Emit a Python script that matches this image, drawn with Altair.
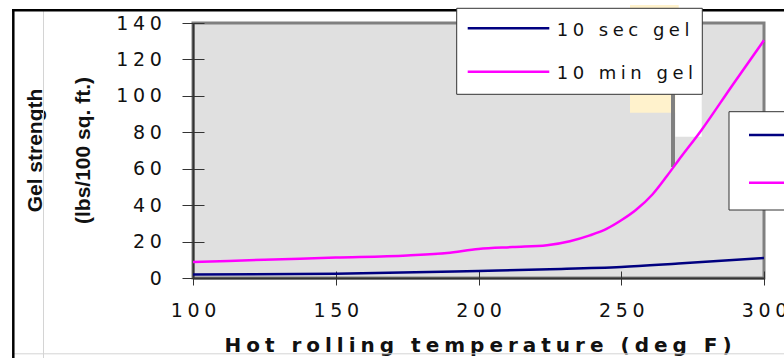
import altair as alt
import pandas as pd

# ---------------- data ----------------
series_names = ["10 sec gel", "10 min gel"]
series_colors = ["#000080", "#ff00ff"]

sec_temp = [100, 150, 200, 225, 250, 270, 300]
sec_gel = [1.9, 2.4, 3.9, 4.8, 6.0, 7.9, 11.0]

min_temp = [100, 125, 150, 175, 189, 200, 212, 224, 232, 239, 245, 250,
            255, 261, 266, 270, 278, 289, 300]
min_gel = [8.8, 10.0, 11.2, 12.4, 13.7, 15.9, 17.0, 18.0, 20.2, 23.4, 27.1,
           31.7, 37.2, 46.0, 56.0, 64.5, 81.0, 106.0, 130.5]

x_ticks = [100, 150, 200, 250, 300]
y_ticks = [0, 20, 40, 60, 80, 100, 120, 140]
x_title = "Hot rolling temperature (deg F)"
y_title = ["Gel strength", "(lbs/100 sq. ft.)"]

# ---------------- layout helpers ----------------
LEFT, TOP, W, H = 193, 23, 571, 255
RIGHT, BOTTOM = 784 - LEFT - W, 358 - TOP - H


def rx(a):
    return a - LEFT


def ry(b):
    return b - TOP


FOUR = "\u2005"    # four-per-em space (tracking)
TXT = "#111111"
AX = "#333333"

xs = alt.Scale(domain=[100, 300], nice=False, zero=False)
ys = alt.Scale(domain=[0, 140], nice=False, zero=True)
cs = alt.Scale(domain=series_names, range=series_colors)

df = pd.DataFrame({
    "temp": sec_temp + min_temp,
    "gel": sec_gel + min_gel,
    "series": [series_names[0]] * len(sec_temp) + [series_names[1]] * len(min_temp),
})
legend_df = pd.DataFrame({"series": series_names})
dummy = pd.DataFrame({"k": [0]})

tick_label_expr = f"join(split(datum.label, ''), '{FOUR}')"

# ---------------- main lines with axes ----------------
lines = alt.Chart(df).mark_line(interpolate="monotone", strokeWidth=2.5).encode(
    x=alt.X("temp:Q", scale=xs, axis=alt.Axis(
        orient="bottom", values=x_ticks, grid=False,
        domainColor=AX, domainWidth=2, tickColor=AX, tickWidth=1, tickSize=7,
        labelFont="DejaVu Sans", labelFontSize=19, labelColor=TXT,
        labelPadding=31.7, labelBaseline="alphabetic", labelFlush=False,
        labelOverlap=False, labelExpr=tick_label_expr,
        title=FOUR.join(x_title), titleFont="DejaVu Sans", titleFontSize=20,
        titleFontWeight="bold", titleColor=TXT, titleAlign="center",
        titleBaseline="alphabetic", titleX=rx(477.5), titleY=351.7 - (TOP + H),
    )),
    y=alt.Y("gel:Q", scale=ys, axis=alt.Axis(
        orient="left", values=y_ticks, grid=False,
        domainColor=AX, domainWidth=2, tickColor=AX, tickWidth=1, tickSize=11,
        labelFont="DejaVu Sans", labelFontSize=19, labelColor=TXT,
        labelPadding=20.6, labelBaseline="middle", labelAlign="right",
        labelFlush=False, labelOverlap=False, labelExpr=tick_label_expr,
        title=y_title, titleFont="Liberation Sans",
        titleFontSize=21, titleFontWeight="bold", titleColor=TXT,
        titleAngle=270, titleAlign="center", titleBaseline="alphabetic",
        titleLineHeight=48.3, titleX=rx(41.7), titleY=ry(150),
    )),
    color=alt.Color("series:N", scale=cs, legend=None),
)

# inner halves of the crossing ticks
inner_x = alt.Chart(pd.DataFrame({"t": x_ticks})).mark_point(opacity=0).encode(
    x=alt.X("t:Q", scale=xs, axis=alt.Axis(
        orient="bottom", values=x_ticks, offset=-7, tickSize=7, tickColor=AX,
        tickWidth=1, domain=False, labels=False, title=None, grid=False)),
)
inner_y = alt.Chart(pd.DataFrame({"t": y_ticks})).mark_point(opacity=0).encode(
    y=alt.Y("t:Q", scale=ys, axis=alt.Axis(
        orient="left", values=y_ticks, offset=-11, tickSize=11, tickColor=AX,
        tickWidth=1, domain=False, labels=False, title=None, grid=False)),
)


# ---------------- decorations ----------------
def rect(x1, x2, y1, y2, **kw):
    return alt.Chart(dummy).mark_rect(**kw).encode(
        x=alt.value(rx(x1)), x2=alt.value(rx(x2)),
        y=alt.value(ry(y1)), y2=alt.value(ry(y2)))


def hrule(x1, x2, y, **kw):
    return alt.Chart(dummy).mark_rule(**kw).encode(
        x=alt.value(rx(x1)), x2=alt.value(rx(x2)), y=alt.value(ry(y)))


def vrule(x, y1, y2, **kw):
    return alt.Chart(dummy).mark_rule(**kw).encode(
        x=alt.value(rx(x)), y=alt.value(ry(y1)), y2=alt.value(ry(y2)))


frame = [
    vrule(43.5, 11, 358, color="#d4d4d4", strokeWidth=1),
    hrule(14, 800, 353.8, color="#d4d4d4", strokeWidth=1),
    vrule(13.3, 9, 358, color="#000000", strokeWidth=2.5),
    hrule(12, 800, 10.2, color="#000000", strokeWidth=2.5),
]

artifacts = [
    rect(630, 678.7, 5, 112.7, fill="#fff2cc"),
    rect(675.3, 701.7, 94.3, 136.7, fill="#ffffff"),
    vrule(673, 94.3, 167, color="#808080", strokeWidth=4),
]

legend_layers = [rect(456.7, 702.3, 8.3, 94.3, fill="#ffffff", stroke="#333333",
                      strokeWidth=1)]
sym_y = [28.3, 71.7]
lab_y = [35.7, 79.3]
for i, name in enumerate(series_names):
    base = alt.Chart(legend_df).transform_filter(alt.datum.series == name)
    legend_layers.append(base.mark_rule(strokeWidth=2.5).encode(
        x=alt.value(rx(467.7)), x2=alt.value(rx(549.3)), y=alt.value(ry(sym_y[i])),
        color=alt.Color("series:N", scale=cs, legend=None)))
    legend_layers.append(base.transform_calculate(
        lbl=f"join(split(datum.series, ''), '{FOUR}')"
    ).mark_text(align="left", baseline="alphabetic", font="DejaVu Sans",
                fontSize=18, color=TXT).encode(
        x=alt.value(rx(556.7)), y=alt.value(ry(lab_y[i])), text="lbl:N"))

# second (cut-off) legend box at the right
legend_layers.append(rect(729, 800, 111.7, 210, fill="#ffffff", stroke="#333333",
                          strokeWidth=1))
sym2_y = [135, 182.7]
for i, name in enumerate(series_names):
    legend_layers.append(
        alt.Chart(legend_df).transform_filter(alt.datum.series == name)
        .mark_rule(strokeWidth=2.5).encode(
            x=alt.value(rx(749)), x2=alt.value(rx(800)), y=alt.value(ry(sym2_y[i])),
            color=alt.Color("series:N", scale=cs, legend=None)))

chart = alt.layer(
    *frame, *artifacts, inner_x, inner_y, lines, *legend_layers
).resolve_axis(
    x="independent", y="independent"
).properties(
    width=W, height=H,
    padding={"left": LEFT, "top": TOP, "right": RIGHT, "bottom": BOTTOM},
    autosize=alt.AutoSizeParams(type="none"),
    background="#ffffff",
).configure_view(
    fill="#e0e0e0", stroke="#808080", strokeWidth=3,
)

chart.save("out.html", embed_options={"renderer": "svg", "actions": False})
